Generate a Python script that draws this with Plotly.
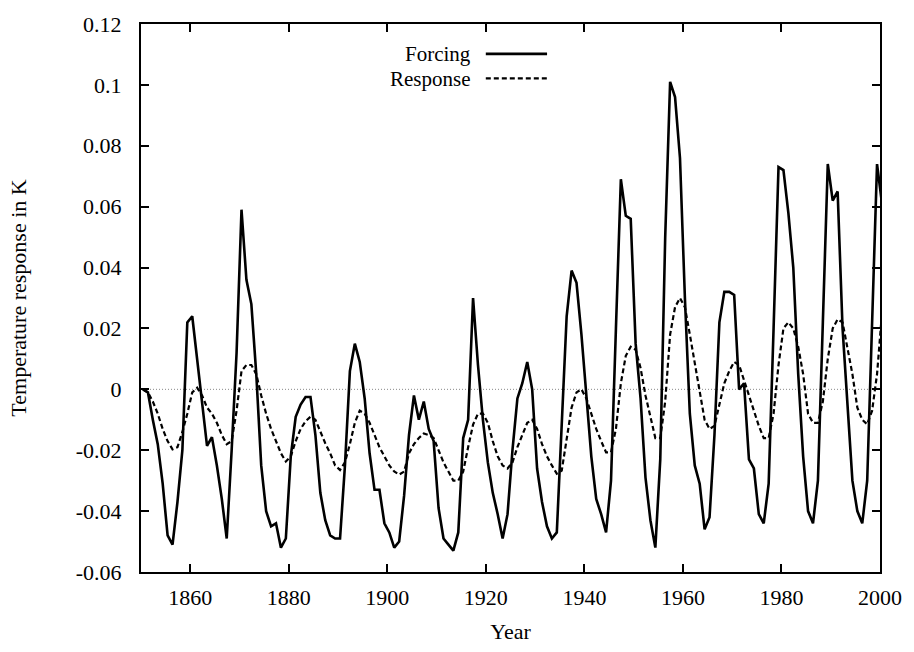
import plotly.graph_objects as go

# Annual samples (mid-year time stamps: year + 0.4)
years = list(range(1850, 2001))
t = [y + 0.4 for y in years]

forcing = [
    0.000, -0.001, -0.010, -0.018, -0.031, -0.048, -0.051, -0.037, -0.020, 0.022,   # 1850-1859
    0.024, 0.010, -0.006, -0.0186, -0.0157, -0.025, -0.036, -0.049, -0.020, 0.012,   # 1860-1869
    0.059, 0.036, 0.028, 0.005, -0.025, -0.040, -0.045, -0.044, -0.052, -0.049,      # 1870-1879
    -0.022, -0.009, -0.005, -0.0025, -0.0025, -0.015, -0.034, -0.043, -0.048, -0.049, # 1880-1889
    -0.049, -0.025, 0.006, 0.015, 0.009, -0.003, -0.021, -0.033, -0.033, -0.044,     # 1890-1899
    -0.047, -0.052, -0.050, -0.035, -0.015, -0.002, -0.010, -0.004, -0.013, -0.017,  # 1900-1909
    -0.039, -0.049, -0.051, -0.053, -0.047, -0.016, -0.010, 0.030, 0.008, -0.010,    # 1910-1919
    -0.024, -0.034, -0.041, -0.049, -0.041, -0.020, -0.003, 0.002, 0.009, 0.000,     # 1920-1929
    -0.026, -0.037, -0.045, -0.049, -0.047, -0.012, 0.024, 0.039, 0.035, 0.018,      # 1930-1939
    -0.002, -0.022, -0.036, -0.041, -0.047, -0.030, 0.020, 0.069, 0.057, 0.056,      # 1940-1949
    0.015, -0.003, -0.029, -0.043, -0.052, -0.023, 0.050, 0.101, 0.096, 0.076,       # 1950-1959
    0.030, -0.008, -0.025, -0.031, -0.046, -0.042, -0.015, 0.022, 0.032, 0.032,      # 1960-1969
    0.031, 0.000, 0.002, -0.023, -0.026, -0.041, -0.044, -0.031, 0.020, 0.073,       # 1970-1979
    0.072, 0.058, 0.040, 0.005, -0.022, -0.040, -0.044, -0.030, 0.022, 0.074,        # 1980-1989
    0.062, 0.065, 0.020, -0.005, -0.030, -0.040, -0.044, -0.030, 0.025, 0.074,       # 1990-1999
    0.061,                                                                            # 2000
]

response = [
    0.000, -0.001, -0.004, -0.008, -0.013, -0.017, -0.0197, -0.019, -0.014, -0.008,  # 1850-1859
    -0.001, 0.0005, -0.002, -0.006, -0.008, -0.011, -0.015, -0.018, -0.017, -0.007,  # 1860-1869
    0.006, 0.008, 0.008, 0.005, -0.002, -0.008, -0.013, -0.017, -0.021, -0.0237,     # 1870-1879
    -0.022, -0.017, -0.013, -0.0105, -0.009, -0.010, -0.014, -0.0177, -0.021, -0.025, # 1880-1889
    -0.0265, -0.024, -0.018, -0.011, -0.007, -0.008, -0.011, -0.015, -0.019, -0.022, # 1890-1899
    -0.025, -0.027, -0.028, -0.027, -0.021, -0.018, -0.016, -0.0145, -0.015, -0.016, # 1900-1909
    -0.020, -0.024, -0.027, -0.030, -0.030, -0.027, -0.019, -0.0116, -0.008, -0.008, # 1910-1919
    -0.011, -0.017, -0.022, -0.025, -0.026, -0.024, -0.019, -0.015, -0.011, -0.010,  # 1920-1929
    -0.013, -0.018, -0.022, -0.025, -0.0277, -0.0267, -0.016, -0.006, -0.001, 0.000, # 1930-1939
    -0.003, -0.008, -0.013, -0.017, -0.0207, -0.0207, -0.013, 0.002, 0.011, 0.014,   # 1940-1949
    0.013, 0.007, -0.002, -0.009, -0.016, -0.016, -0.004, 0.018, 0.027, 0.030,       # 1950-1959
    0.027, 0.018, 0.009, 0.000, -0.010, -0.013, -0.012, -0.005, 0.002, 0.006,        # 1960-1969
    0.009, 0.008, 0.003, -0.002, -0.007, -0.012, -0.016, -0.016, -0.008, 0.008,      # 1970-1979
    0.020, 0.022, 0.020, 0.014, 0.005, -0.008, -0.011, -0.011, -0.004, 0.010,        # 1980-1989
    0.020, 0.023, 0.022, 0.014, 0.005, -0.006, -0.010, -0.0115, -0.007, 0.005,       # 1990-1999
    0.025,                                                                            # 2000
]

x_ticks = [1860, 1880, 1900, 1920, 1940, 1960, 1980, 2000]
y_ticks = [-0.06, -0.04, -0.02, 0, 0.02, 0.04, 0.06, 0.08, 0.1, 0.12]
y_tick_labels = ["-0.06", "-0.04", "-0.02", "0", "0.02", "0.04", "0.06", "0.08", "0.1", "0.12"]

FONT = "Liberation Serif, Times New Roman, serif"
FS = 22
tfont = dict(family=FONT, size=FS, color="black")
kfont = dict(family=FONT, size=21, color="black")

fig = go.Figure()
fig.add_hline(y=0, line=dict(color="#888888", width=1, dash="1px,2px"), layer="below")
fig.add_trace(go.Scatter(x=t, y=forcing, mode="lines", name="Forcing",
                         line=dict(color="black", width=2.6)))
fig.add_trace(go.Scatter(x=t, y=response, mode="lines", name="Response",
                         line=dict(color="black", width=2.2, dash="5px,3px")))

L, R, T, B = 141, 25, 18, 75
W, H = 914, 652
pw, ph = W - L - R, H - T - B

def px(xp):
    return (xp - L) / pw

def py(yp):
    return 1 - (yp - T) / ph

# gnuplot-style key: text right-aligned, sample line to its right
key = [("Forcing", 49.0, dict(color="black", width=2.6)),
       ("Response", 74.0, dict(color="black", width=2.2, dash="5px,3px"))]
for label, yk, ln in key:
    fig.add_annotation(x=px(476), y=py(yk), xref="paper", yref="paper", text=label,
                       showarrow=False, xanchor="right", yanchor="middle",
                       borderpad=0, font=kfont)
    fig.add_shape(type="line", xref="paper", yref="paper", x0=px(490), x1=px(552),
                  y0=py(yk - 0.5), y1=py(yk - 0.5), line=ln)

fig.update_layout(
    width=W, height=H,
    margin=dict(l=L, r=R, t=T, b=B),
    paper_bgcolor="white", plot_bgcolor="white",
    showlegend=False,
    font=tfont,
    xaxis=dict(range=[1850, 2000], tickvals=x_ticks, ticks="inside", ticklen=8,
               tickcolor="black", tickwidth=1.5, showline=True, linecolor="black", linewidth=2,
               mirror="ticks", showgrid=False, zeroline=False, tickfont=tfont,
               title=dict(text="Year", standoff=14, font=tfont), ticklabelstandoff=5),
    yaxis=dict(range=[-0.06, 0.12], tickvals=y_ticks, ticktext=y_tick_labels,
               ticks="inside", ticklen=8, tickcolor="black", tickwidth=1.5, showline=True,
               linecolor="black", linewidth=2, mirror="ticks", showgrid=False,
               zeroline=False, ticklabelstandoff=13, tickfont=tfont,
               title=dict(text="Temperature response in K", standoff=43, font=tfont)),
)

fig.write_html("out.html")
